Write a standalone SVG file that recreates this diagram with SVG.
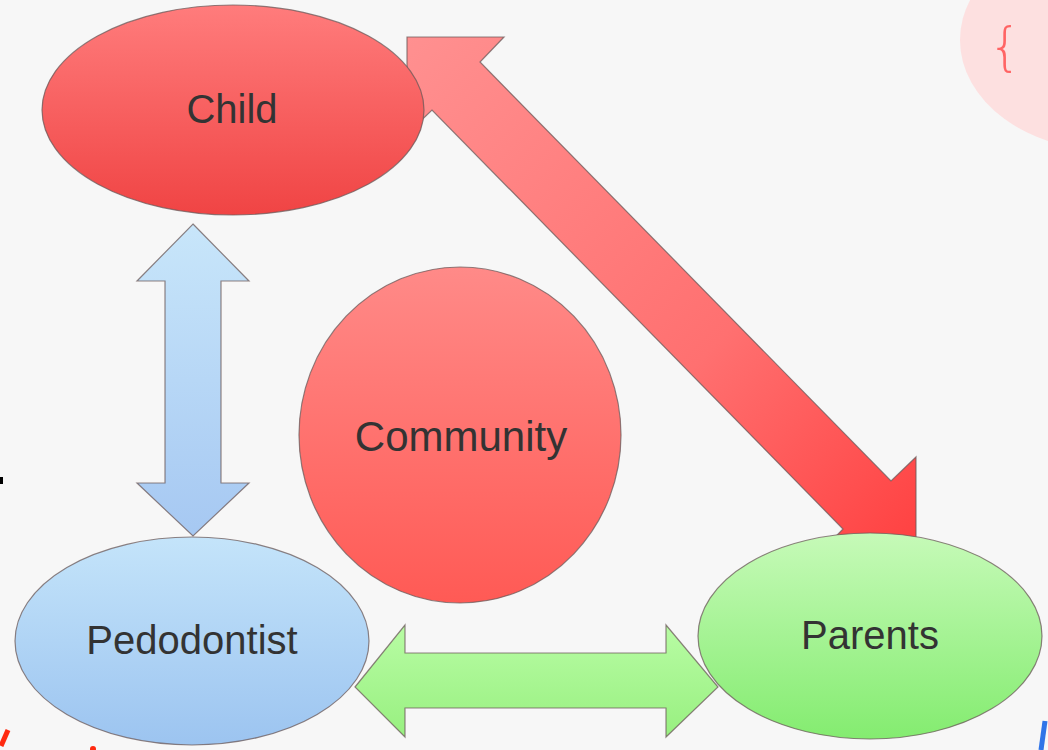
<svg xmlns="http://www.w3.org/2000/svg" width="1048" height="750" viewBox="0 0 1048 750">
<style>
.lbl{font-family:"Liberation Sans",Arial,sans-serif;font-size:40px;fill:#333333;text-anchor:middle}
.big{font-size:42px}
.edge{stroke:#6b5a5a;stroke-width:1.2;stroke-opacity:0.75}
</style>
<defs>
<linearGradient id="gRed" x1="0" y1="0" x2="0" y2="1">
<stop offset="0" stop-color="#ff7c7c"/><stop offset="1" stop-color="#f04444"/>
</linearGradient>
<linearGradient id="gComm" x1="0" y1="0" x2="0" y2="1">
<stop offset="0" stop-color="#ff8a88"/><stop offset="1" stop-color="#ff5a55"/>
</linearGradient>
<linearGradient id="gBlue" x1="0" y1="0" x2="0" y2="1">
<stop offset="0" stop-color="#c4e4fa"/><stop offset="1" stop-color="#9cc4f0"/>
</linearGradient>
<linearGradient id="gGreen" x1="0" y1="0" x2="0" y2="1">
<stop offset="0" stop-color="#c6fab8"/><stop offset="1" stop-color="#84ec70"/>
</linearGradient>
<linearGradient id="gRedArrow" x1="0" y1="0" x2="1" y2="1">
<stop offset="0" stop-color="#ff9090"/><stop offset="0.6" stop-color="#ff7070"/><stop offset="1" stop-color="#ff4040"/>
</linearGradient>
<linearGradient id="gBlueArrow" x1="0" y1="0" x2="0" y2="1">
<stop offset="0" stop-color="#c8e6fa"/><stop offset="1" stop-color="#a6c8f2"/>
</linearGradient>
<linearGradient id="gGreenArrow" x1="0" y1="0" x2="0" y2="1">
<stop offset="0" stop-color="#b8fca4"/><stop offset="1" stop-color="#98f080"/>
</linearGradient>
</defs>
<rect width="1048" height="750" fill="#f7f7f7"/>
<ellipse cx="1110" cy="40" rx="150" ry="111" fill="#fde0e0"/>
<text x="1005" y="64" font-family="DejaVu Sans,sans-serif" font-size="52" font-weight="200" fill="#ff6464" text-anchor="middle">{</text>
<rect x="0" y="477" width="3" height="7" fill="#000"/>
<path d="M1,746 L8,730" stroke="#ff2a10" stroke-width="5" fill="none"/>
<circle cx="93" cy="749" r="3" fill="#ff2a10"/>
<path d="M1041,750 L1045,721" stroke="#2f74e8" stroke-width="5" fill="none"/>
<g id="connectors">
<polygon class="edge" fill="url(#gRedArrow)" points="407,37 504,37 480,62 891,481 916,457 916,554 819,554 843,529 432,110 407,134"/>
<polygon class="edge" fill="url(#gBlueArrow)" points="193,224 249,281 221,281 221,483 249,483 193,536 137,483 165,483 165,281 137,281"/>
<polygon class="edge" fill="url(#gGreenArrow)" points="355,687 405,625 405,653 666,653 666,625 718,687 666,737 666,708 405,708 405,737"/>
</g>
<g id="child">
<ellipse class="edge" cx="233" cy="110" rx="191" ry="105" fill="url(#gRed)"/>
<text class="lbl" x="232" y="123">Child</text>
</g>
<g id="community">
<ellipse class="edge" cx="460" cy="435" rx="161" ry="168" fill="url(#gComm)"/>
<text class="lbl big" x="461" y="451">Community</text>
</g>
<g id="pedodontist">
<ellipse class="edge" cx="192" cy="641" rx="177" ry="104" fill="url(#gBlue)"/>
<text class="lbl" x="192" y="654">Pedodontist</text>
</g>
<g id="parents">
<ellipse class="edge" cx="870" cy="636" rx="172" ry="103" fill="url(#gGreen)"/>
<text class="lbl" x="870" y="649">Parents</text>
</g>
</svg>
